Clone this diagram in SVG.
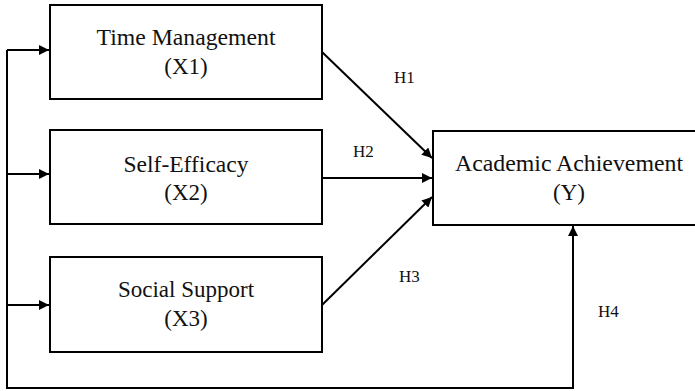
<svg xmlns="http://www.w3.org/2000/svg" width="695" height="391" viewBox="0 0 695 391">
<style>
.box{fill:#fff;stroke:#000;stroke-width:2}
.t{font-family:'Liberation Serif','DejaVu Serif',serif;font-size:23px;fill:#111;text-anchor:middle}
.h{font-family:'Liberation Serif','DejaVu Serif',serif;font-size:17px;fill:#111}
.c{fill:none;stroke:#000;stroke-width:2}
</style>
<defs>
<marker id="ah" viewBox="0 0 10 10" refX="10" refY="5" markerWidth="5" markerHeight="5" orient="auto" markerUnits="strokeWidth">
<path d="M0,0 L10,5 L0,10 z" fill="#000"/>
</marker>
</defs>
<rect width="695" height="391" fill="#fff"/>
<g id="x1">
<rect class="box" x="50" y="5" width="272" height="94"/>
<text class="t" x="186" y="45" textLength="179" lengthAdjust="spacingAndGlyphs">Time Management</text>
<text class="t" x="186" y="74">(X1)</text>
</g>
<g id="x2">
<rect class="box" x="50" y="130" width="272" height="94"/>
<text class="t" x="186" y="172" textLength="125" lengthAdjust="spacingAndGlyphs">Self-Efficacy</text>
<text class="t" x="186" y="200">(X2)</text>
</g>
<g id="x3">
<rect class="box" x="50" y="257" width="272" height="95"/>
<text class="t" x="186" y="297">Social Support</text>
<text class="t" x="186" y="326">(X3)</text>
</g>
<g id="y">
<rect class="box" x="433" y="131" width="270" height="94"/>
<text class="t" x="569" y="171" textLength="228" lengthAdjust="spacingAndGlyphs">Academic Achievement</text>
<text class="t" x="569" y="200">(Y)</text>
</g>
<g id="connectors">
<path class="c" d="M7,388 V50"/>
<path class="c" d="M7,50 H49" marker-end="url(#ah)"/>
<path class="c" d="M7,174 H49" marker-end="url(#ah)"/>
<path class="c" d="M7,305 H49" marker-end="url(#ah)"/>
<path class="c" d="M6,388 H573 V226" marker-end="url(#ah)"/>
<path class="c" d="M322,52 L432,158" marker-end="url(#ah)"/>
<path class="c" d="M322,178 L432,178" marker-end="url(#ah)"/>
<path class="c" d="M322,305 L432,197" marker-end="url(#ah)"/>
<text class="h" x="394" y="83">H1</text>
<text class="h" x="353" y="157">H2</text>
<text class="h" x="399" y="282">H3</text>
<text class="h" x="598" y="317">H4</text>
</g>
</svg>
